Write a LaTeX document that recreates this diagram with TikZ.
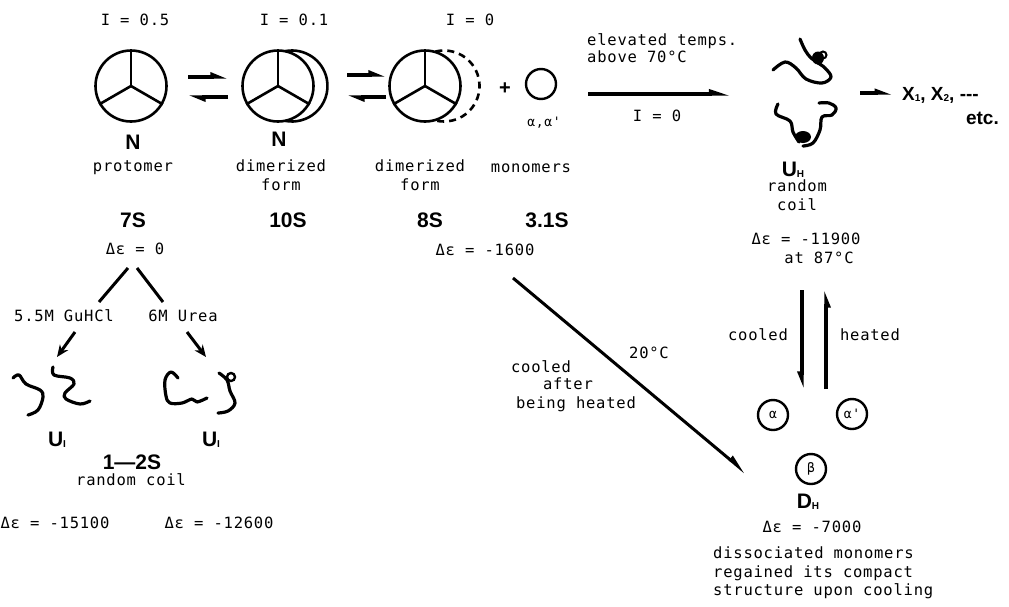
\documentclass[tikz,border=0pt]{standalone}
\usepackage{fontspec}
\usetikzlibrary{arrows.meta}
\newfontfamily\tw{DejaVu Sans Mono}[LetterSpace=5]
\newfontfamily\hv{Liberation Sans}
\newcommand{\sbs}[1]{\raisebox{-1.5pt}{\fontsize{10}{10}\selectfont #1}}
\begin{document}
\begin{tikzpicture}[x=1pt,y=-1pt,
  txt/.style={font=\tw\fontsize{15.5}{18.5}\selectfont, inner sep=0pt, align=center},
  txtl/.style={txt, align=left},
  lab/.style={font=\hv\bfseries\fontsize{21}{24}\selectfont, inner sep=0pt},
  ring/.style={circle, draw, line width=2.6pt, minimum size=71pt, inner sep=0pt},
  mono/.style={circle, draw, line width=2.4pt, minimum size=30pt, inner sep=0pt,
    font=\tw\fontsize{13}{13}\selectfont},
  spoke/.style={line width=2.6pt},
  harpl/.style={line width=3.6pt, -{Triangle[left, length=13pt, width=9pt]}},
  harpr/.style={line width=3.6pt, -{Triangle[right, length=13pt, width=9pt]}},
  branch/.style={line width=3pt},
  fullarr/.style={line width=3pt, -{Stealth[length=12pt, width=10pt]}},
  coil/.style={line width=3.2pt, line cap=round, line join=round},
]
\useasboundingbox (0,0) rectangle (1009,606);

% ionic strength labels
\node[txt] (i1) at (135,20) {I = 0.5};
\node[txt] (i2) at (294,20) {I = 0.1};
\node[txt] (i3) at (470,20) {I = 0};

% protomer
\node[ring] (p1) at (131,86) {};
\foreach \a in {90,210,330} \draw[spoke] (p1.center) -- (p1.\a);

% dimerized form (second subunit behind)
\draw[line width=2.6pt] ([shift={(-101:35.5)}]292,86) arc[start angle=-101, end angle=101, radius=35.5];
\node[ring] (p2) at (278,86) {};
\foreach \a in {90,210,330} \draw[spoke] (p2.center) -- (p2.\a);

% dimerized form, partner subunit dashed
\draw[line width=2.6pt, dashed, dash pattern=on 7pt off 5pt] ([shift={(-104:35.5)}]444,86) arc[start angle=-104, end angle=104, radius=35.5];
\node[ring] (p3) at (425,86) {};
\foreach \a in {90,210,330} \draw[spoke] (p3.center) -- (p3.\a);

% monomer
\node[font=\hv\bfseries\fontsize{20}{20}\selectfont, inner sep=0pt] (plus) at (505,89) {+};
\node[mono] (m) at (541,84) {};
\node[txt, font=\tw\fontsize{13}{13}\selectfont] (aa) at (544,123) {α,α'};

% equilibrium harpoons
\coordinate (e1a) at (188,77); \coordinate (e1b) at (228,77);
\coordinate (e1c) at (228,97); \coordinate (e1d) at (188,97);
\draw[harpl] (e1a) -- (e1b);
\draw[harpl] (e1c) -- (e1d);
\coordinate (e2a) at (347,75); \coordinate (e2b) at (386,75);
\coordinate (e2c) at (386,97); \coordinate (e2d) at (347,97);
\draw[harpl] (e2a) -- (e2b);
\draw[harpl] (e2c) -- (e2d);

% labels under the structures
\node[lab] (n1) at (133,142) {N};
\node[lab] (n2) at (279,139) {N};
\node[txt] (t1) at (133,168) {protomer};
\node[txt, anchor=north] (t2) at (281,160) {dimerized\\form};
\node[txt, anchor=north] (t3) at (420,160) {dimerized\\form};
\node[txt] (t4) at (531,168) {monomers};

\node[lab] (s1) at (133,220) {7S};
\node[lab] (s2) at (288,220) {10S};
\node[lab] (s3) at (430,220) {8S};
\node[lab] (s4) at (547,220) {3.1S};

\node[txt] (d0) at (135,249) {Δε = 0};
\node[txt] (d1) at (485,250) {Δε = -1600};

% denaturants
\coordinate (b1s) at (128,268); \coordinate (b1e) at (99,302);
\coordinate (b2s) at (137,268); \coordinate (b2e) at (163,302);
\draw[branch] (b1s) -- (b1e);
\draw[branch] (b2s) -- (b2e);
\node[txt] (g1) at (64,316) {5.5M GuHCl};
\node[txt] (g2) at (183,316) {6M Urea};
\coordinate (a1s) at (75,332); \coordinate (a1e) at (57,357);
\coordinate (a2s) at (187,332); \coordinate (a2e) at (206,357);
\draw[fullarr] (a1s) -- (a1e);
\draw[fullarr] (a2s) -- (a2e);

% unfolded chains
\draw[coil] plot[smooth, tension=0.6] coordinates {(13,378) (19,375) (26,384) (40,390) (43,397) (38,410) (28,415)};
\draw[coil] plot[smooth, tension=0.6] coordinates {(53,367) (54,375) (70,378) (74,384) (65,393) (66,399) (80,404) (90,401)};
\draw[coil] plot[smooth, tension=0.6] coordinates {(178,378) (171,372) (165,380) (166,396) (170,403) (182,403) (192,399) (197,402) (207,398)};
\draw[coil] plot[smooth, tension=0.6] coordinates {(219,373) (227,380) (230,391) (235,403) (228,411) (218,413)};
\draw[line width=2.4pt] (231,377) circle (4);

\node[lab] (u1) at (57,440) {U\sbs{I}};
\node[lab] (u2) at (211,440) {U\sbs{I}};
\node[lab] (s5) at (132,462) {1—2S};
\node[txt] (rc1) at (131,480) {random coil};
\node[txt] (d2) at (55,523) {Δε = -15100};
\node[txt] (d3) at (219,523) {Δε = -12600};

% heating step
\node[txtl, anchor=west] (h1) at (587,41) {elevated temps.};
\node[txtl, anchor=west] (h2) at (587,57) {above 70°C};
\coordinate (ha) at (588,94); \coordinate (hb) at (731,94);
\draw[line width=3.4pt, -{Triangle[left, length=16pt, width=9pt]}] (ha) -- (hb);
\node[txt] (i4) at (657,116) {I = 0};

% heat-unfolded chains
\draw[coil] plot[smooth, tension=0.6] coordinates {(773,70) (785,62) (796,68) (806,79) (822,83) (831,77) (825,68) (818,63)};
\draw[coil] plot[smooth, tension=0.6] coordinates {(800,39) (805,50) (811,58) (818,62)};
\fill (818,58) ellipse (6 and 6.5);
\draw[line width=2pt] (823,55) circle (3.5);
\draw[coil] plot[smooth, tension=0.6] coordinates {(778,104) (776,114) (790,121) (793,132) (799,142)};
\draw[coil] plot[smooth, tension=0.6] coordinates {(819,103) (829,103) (836,108) (832,115) (822,117) (820,130) (813,143) (803,146)};
\fill (803,137) ellipse (8 and 6);

\node[lab] (uh) at (793,170) {U\sbs{H}};
\node[txt, anchor=north] (rc2) at (797,180) {random\\coil};
\node[txt] (d4) at (806,239) {Δε = -11900};
\node[txt] (d4b) at (819,258) {at 87°C};

% further products
\coordinate (xa) at (860,93); \coordinate (xb) at (893,93);
\draw[line width=3.4pt, -{Triangle[left, length=13pt, width=8pt]}] (xa) -- (xb);
\node[lab, anchor=west, font=\hv\bfseries\fontsize{19}{22}\selectfont] (x) at (902,95) {X\sbs{1}, X\sbs{2}, ---};
\node[lab, anchor=east, font=\hv\bfseries\fontsize{19}{22}\selectfont] (etc) at (999,118) {etc.};

% cooling / heating
\coordinate (ca) at (802,290); \coordinate (cb) at (802,389);
\coordinate (hc) at (826,389); \coordinate (hd) at (826,290);
\draw[harpr] (ca) -- (cb);
\draw[harpr] (hc) -- (hd);
\node[txt] (cl) at (758,335) {cooled};
\node[txt] (ht) at (870,335) {heated};

% refolded monomers
\node[mono] (al) at (773,415) {α};
\node[mono] (alp) at (852,414) {α'};
\node[mono] (be) at (811,469) {β};
\node[lab] (dh) at (808,502) {D\sbs{H}};
\node[txt] (d5) at (812,527) {Δε = -7000};
\node[txtl, anchor=north west] (note) at (713,547) {dissociated monomers\\regained its compact\\structure upon cooling};

% direct cooling path
\coordinate (da) at (513,278); \coordinate (db) at (746,473);
\draw[line width=3pt, -{Triangle[left, length=16pt, width=9pt]}] (da) -- (db);
\node[txt] (t20) at (649,353) {20°C};
\node[txt] (c1) at (541,367) {cooled};
\node[txt] (c2) at (568,384) {after};
\node[txt] (c3) at (576,404) {being heated};
\end{tikzpicture}
\end{document}
